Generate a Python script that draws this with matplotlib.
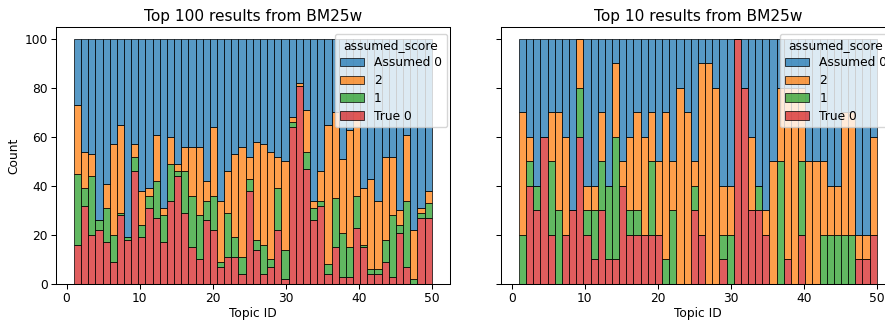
import matplotlib
matplotlib.use("Agg")
import matplotlib.pyplot as plt
import seaborn as sns
import pandas as pd
import numpy as np

topics = list(range(1, 51))
levels = ["Assumed 0", "2", "1", "True 0"]

# ---- Top 100 results (counts) ----
true0_100 = [16, 32, 20, 22, 17, 9, 28, 18, 46, 19,
             31, 27, 17, 34, 44, 29, 15, 10, 26, 22,
             7, 11, 11, 4, 38, 14, 4, 7, 22, 2,
             64, 81, 47, 26, 32, 4, 15, 3, 3, 23,
             15, 4, 4, 9, 3, 21, 7, 0, 27, 27]
one_100 = [29, 7, 24, 4, 14, 11, 1, 1, 6, 5,
           5, 15, 11, 15, 2, 17, 21, 18, 8, 14,
           2, 18, 8, 7, 5, 4, 12, 3, 17, 12,
           2, 0, 7, 5, 2, 4, 20, 18, 12, 13,
           1, 2, 2, 9, 25, 3, 27, 2, 2, 6]
two_100 = [28, 15, 9, 0, 10, 37, 36, 0, 5, 14,
           3, 19, 3, 11, 3, 10, 20, 28, 8, 28,
           25, 17, 34, 45, 9, 40, 41, 44, 13, 36,
           2, 1, 17, 3, 12, 57, 35, 30, 48, 34,
           23, 37, 28, 34, 24, 6, 27, 20, 2, 5]
assumed0_100 = [27, 46, 47, 74, 59, 43, 35, 81, 43, 62,
                61, 39, 69, 40, 51, 44, 44, 44, 58, 36,
                66, 54, 47, 44, 48, 42, 43, 46, 48, 50,
                32, 18, 29, 66, 54, 35, 30, 49, 37, 30,
                61, 57, 66, 48, 48, 70, 39, 78, 69, 62]

# ---- Top 10 results (as plotted, 0-100 scale) ----
true0_10 = [0, 40, 30, 60, 20, 0, 20, 30, 60, 20,
            10, 30, 10, 10, 40, 20, 20, 20, 20, 20,
            0, 0, 0, 0, 30, 20, 0, 0, 10, 0,
            100, 80, 30, 30, 20, 0, 0, 10, 0, 20,
            0, 0, 0, 0, 0, 0, 0, 10, 10, 20]
one_10 = [20, 10, 10, 0, 30, 30, 0, 0, 20, 10,
          20, 20, 30, 50, 0, 10, 10, 0, 30, 0,
          10, 30, 0, 0, 10, 0, 0, 0, 10, 20,
          0, 0, 0, 10, 0, 0, 50, 0, 0, 30,
          0, 0, 20, 20, 20, 20, 20, 0, 0, 0]
two_10 = [50, 10, 0, 0, 20, 40, 40, 0, 20, 10,
          10, 20, 0, 30, 10, 30, 40, 40, 20, 30,
          60, 20, 80, 70, 10, 70, 90, 80, 20, 20,
          0, 0, 30, 0, 10, 50, 30, 70, 80, 30,
          50, 50, 30, 20, 20, 50, 50, 10, 10, 40]
assumed0_10 = [30, 40, 60, 40, 30, 30, 40, 70, 0, 60,
               60, 30, 60, 10, 50, 40, 30, 40, 30, 50,
               30, 50, 20, 30, 50, 10, 10, 20, 60, 60,
               0, 20, 40, 60, 70, 50, 20, 20, 20, 20,
               50, 50, 50, 60, 60, 30, 30, 80, 80, 40]


def long_df(a0, two, one, t0):
    rows = []
    for i, t in enumerate(topics):
        for lvl, arr in zip(levels, [a0, two, one, t0]):
            rows.append({"topic": t, "assumed_score": lvl, "count": arr[i]})
    return pd.DataFrame(rows)


df100 = long_df(assumed0_100, two_100, one_100, true0_100)
df10 = long_df(assumed0_10, two_10, one_10, true0_10)

s = 0.7375
plt.rcParams.update({
    "font.size": 12 * s,
    "axes.titlesize": 15 * s,
    "axes.linewidth": 1.0 * s,
    "xtick.major.width": 1.0 * s,
    "ytick.major.width": 1.0 * s,
    "xtick.major.size": 4.5 * s,
    "ytick.major.size": 4.5 * s,
    "xtick.major.pad": 3.0 * s,
    "ytick.major.pad": 3.5 * s,
    "axes.titlepad": 6 * s,
    "axes.labelpad": 4 * s,
})

W, H = 885, 320
fig = plt.figure(figsize=(W / 100, H / 100), dpi=100)
axw = 393.6 / W
axh = 257.3 / H
bot = (H - 284) / H
ax1 = fig.add_axes([56 / W, bot, axw, axh])
ax2 = fig.add_axes([501.1 / W, bot, axw, axh], sharey=ax1)

palette = dict(zip(levels, ["#1f77b4", "#ff7f0e", "#2ca02c", "#d62728"]))

for ax, df, title in [(ax1, df100, "Top 100 results from BM25w"),
                      (ax2, df10, "Top 10 results from BM25w")]:
    sns.histplot(data=df, x="topic", hue="assumed_score", weights="count",
                 multiple="stack", bins=50, binrange=(1, 50),
                 hue_order=levels, palette=palette, ax=ax,
                 linewidth=0.5, edgecolor="black")
    ax.set_title(title)
    ax.set_xlabel("Topic ID", labelpad=1.5)
    sns.move_legend(ax, "upper right", bbox_to_anchor=(0.9934, 0.972),
                    borderaxespad=0, labelspacing=0.38)

ax1.set_ylabel("Count")
ax2.set_ylabel("")
ax2.tick_params(labelleft=False)

fig.savefig("out.png", dpi=100)
